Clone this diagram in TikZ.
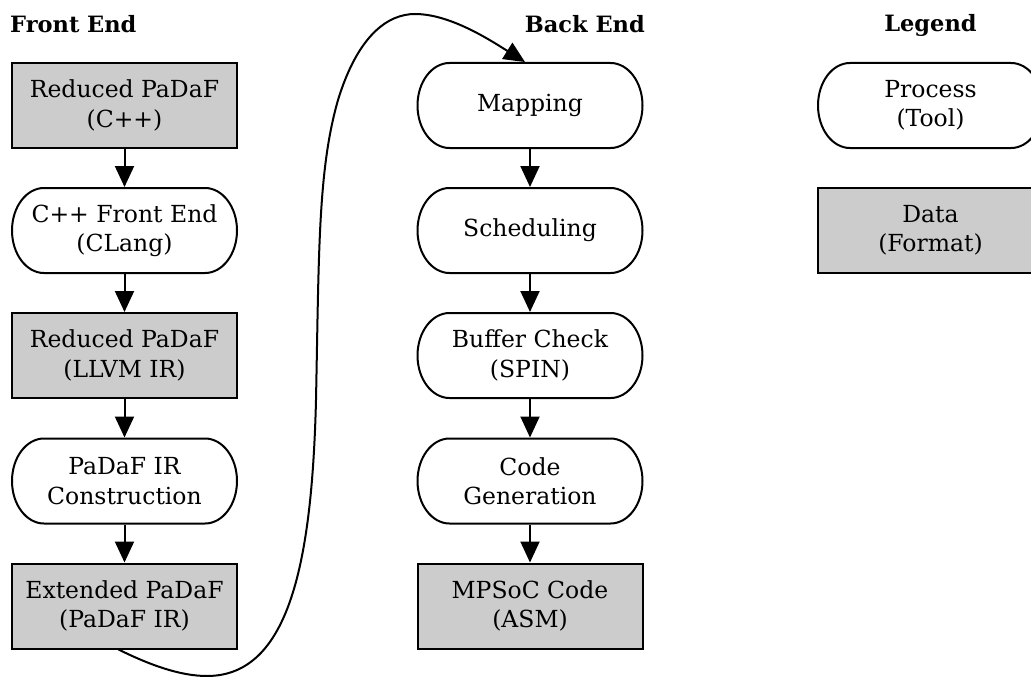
\documentclass[tikz,border=0pt]{standalone}
\usepackage{fontspec}
\setmainfont{DejaVu Serif}
\usetikzlibrary{arrows.meta,calc}
\definecolor{datagray}{RGB}{204,204,204}
\begin{document}
\begin{tikzpicture}[x=1pt,y=-1pt,
  base/.style={line width=2pt, minimum width=225pt, minimum height=85pt,
    align=center, inner sep=0pt, font=\fontsize{23.5}{29.5}\selectfont},
  proc/.style={base},
  data/.style={base, draw=black, fill=datagray},
  head/.style={inner sep=0pt, font=\fontsize{22.5}{29}\selectfont\bfseries},
  flow/.style={line width=2pt, -{Triangle[length=21pt,width=19pt]}},
  stadium/.pic={\draw[line width=2pt, fill=white]
      (-80.5,-42.5) -- (80.5,-42.5)
      arc[start angle=-90, end angle=90, x radius=32, y radius=42.5]
      -- (-80.5,42.5)
      arc[start angle=90, end angle=270, x radius=32, y radius=42.5] -- cycle;}]
\clip (0,0) rectangle (1031,677);
% headings
\node[head, anchor=base west] (hfront) at (10,33) {Front End};
\node[head, anchor=base east] (hback) at (645,33) {Back End};
\node[head, anchor=base] (hleg) at (930.5,32) {Legend};
% process outlines
\foreach \cx/\cy in {124.5/230.5, 124.5/481, 530/105.5, 530/230.5, 530/355.5, 530/481, 930.5/105.5}
  \pic at (\cx,\cy) {stadium};
% front end
\node[data] (f1) at (124.5,105.5) {Reduced PaDaF\\(C++)};
\node[proc] (f2) at (124.5,230.5) {C++ Front End\\(CLang)};
\node[data] (f3) at (124.5,355.5) {Reduced PaDaF\\(LLVM IR)};
\node[proc] (f4) at (124.5,481) {PaDaF IR\\Construction};
\node[data] (f5) at (124.5,606) {Extended PaDaF\\(PaDaF IR)};
% back end
\node[proc] (b1) at (530,105.5) {Mapping};
\node[proc] (b2) at (530,230.5) {Scheduling};
\node[proc] (b3) at (530,355.5) {Buffer Check\\(SPIN)};
\node[proc] (b4) at (530,481) {Code\\Generation};
\node[data] (b5) at (530,606) {MPSoC Code\\(ASM)};
% legend
\node[proc] (lp) at (930.5,105.5) {Process\\(Tool)};
\node[data] (ld) at (930.5,230.5) {Data\\(Format)};
% arrows
\foreach \a/\b in {f1/f2,f2/f3,f3/f4,f4/f5,b1/b2,b2/b3,b3/b4,b4/b5}
  \draw[flow] (\a) -- (\b);
\draw[flow] ($(f5.south)+(-6,0)$)
  .. controls (150,665) and (180,676) .. (207,676)
  .. controls (290,676) and (312,560) .. (316,400)
  .. controls (319,250) and (318,170) .. (338,100)
  .. controls (358,35) and (388,14) .. (415,14)
  .. controls (450,14) and (490,40) .. ($(b1.north)+(-5,0)$);
\end{tikzpicture}
\end{document}
